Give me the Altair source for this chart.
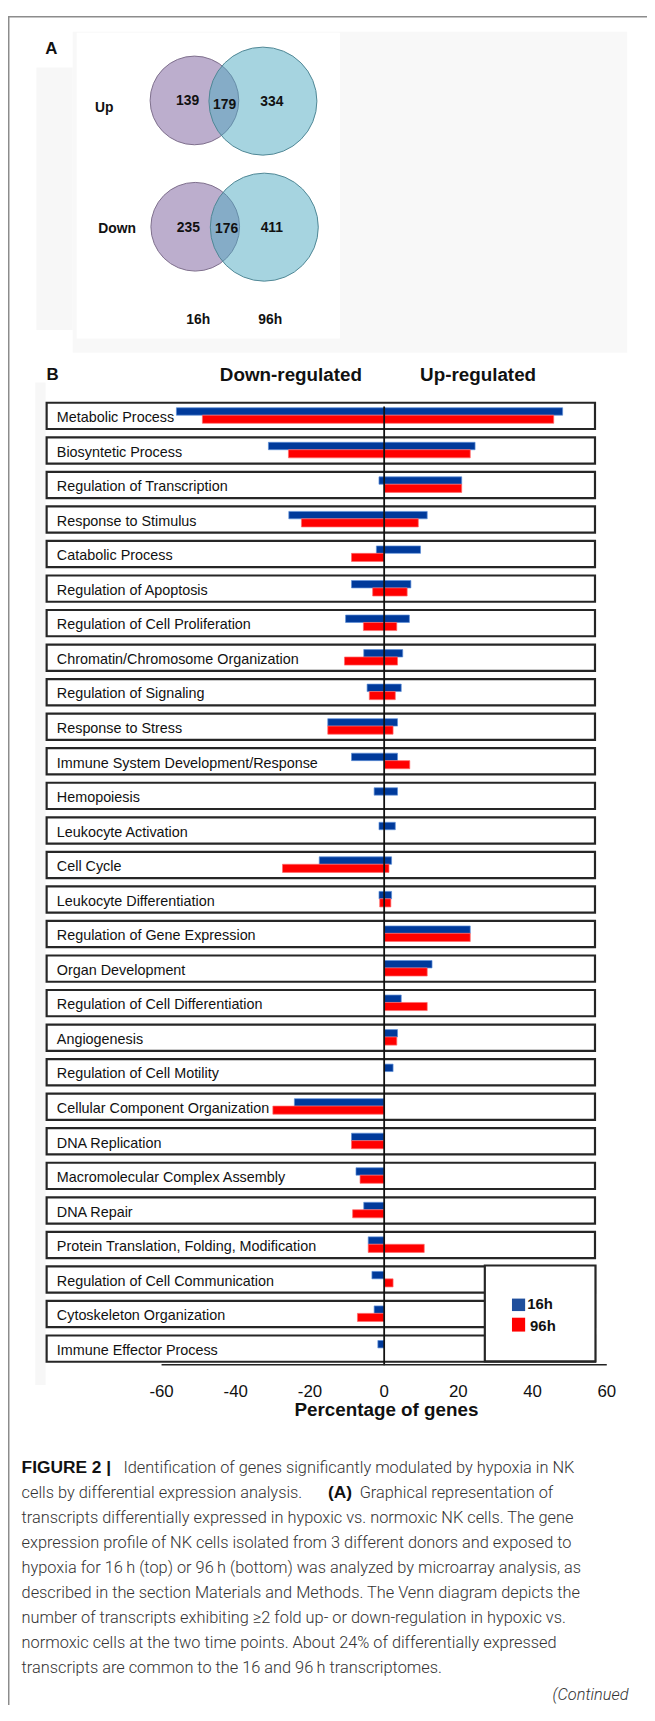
import altair as alt
import pandas as pd

# ------------------------------------------------------------------ data
categories = [
    "Metabolic Process", "Biosyntetic Process", "Regulation of Transcription",
    "Response to Stimulus", "Catabolic Process", "Regulation of Apoptosis",
    "Regulation of Cell Proliferation", "Chromatin/Chromosome Organization",
    "Regulation of Signaling", "Response to Stress",
    "Immune System Development/Response", "Hemopoiesis", "Leukocyte Activation",
    "Cell Cycle", "Leukocyte Differentiation", "Regulation of Gene Expression",
    "Organ Development", "Regulation of Cell Differentiation", "Angiogenesis",
    "Regulation of Cell Motility", "Cellular Component Organization",
    "DNA Replication", "Macromolecular Complex Assembly", "DNA Repair",
    "Protein Translation, Folding, Modification",
    "Regulation of Cell Communication", "Cytoskeleton Organization",
    "Immune Effector Process",
]
down_16h = [-56.0, -31.2, -1.4, -25.7, -2.1, -8.8, -10.4, -5.5, -4.6, -15.2,
            -8.8, -2.7, -1.4, -17.5, -1.4, 0, 0, 0, 0, 0,
            -24.2, -8.8, -7.6, -5.5, -4.3, -3.3, -2.7, -1.7]
up_16h = [48.1, 24.5, 20.9, 11.6, 9.8, 7.2, 6.8, 5.0, 4.6, 3.6,
          3.6, 3.6, 3.0, 2.0, 2.0, 23.2, 12.9, 4.6, 3.6, 2.4,
          0, 0, 0, 0, 0, 0, 0, 0]
down_96h = [-49.0, -25.8, 0, -22.3, -8.8, -3.1, -5.6, -10.7, -4.0, -15.2,
            0, 0, 0, -27.4, -1.2, 0, 0, 0, 0, 0,
            -30.0, -8.8, -6.5, -8.5, -4.3, 0, -7.2, 0]
up_96h = [45.7, 23.2, 20.9, 9.2, 0, 6.2, 3.4, 3.6, 3.0, 2.4,
          6.9, 0, 0, 1.3, 1.8, 23.2, 11.6, 11.6, 3.4, 0,
          0, 0, 0, 0, 10.8, 2.4, 0, 0]
series = ["16h", "96h"]
x_ticks = [-60, -40, -20, 0, 20, 40, 60]

venn_rows = ["Up", "Down"]
venn_only16 = [139, 235]
venn_common = [179, 176]
venn_only96 = [334, 411]
venn_sets = ["16h", "96h"]

caption_lines = [
    "Identification of genes significantly modulated by hypoxia in NK",
    "cells by differential expression analysis.",
    "transcripts differentially expressed in hypoxic vs. normoxic NK cells. The gene",
    "expression profile of NK cells isolated from 3 different donors and exposed to",
    "hypoxia for 16\u2009h (top) or 96\u2009h (bottom) was analyzed by microarray analysis, as",
    "described in the section Materials and Methods. The Venn diagram depicts the",
    "number of transcripts exhibiting \u22652 fold up- or down-regulation in hypoxic vs.",
    "normoxic cells at the two time points. About 24% of differentially expressed",
    "transcripts are common to the 16 and 96\u2009h transcriptomes.",
]

# ------------------------------------------------------------------ layout / style
W, H = 645, 1705
X0, PXU = 379.7, 3.745          # pixel of 0 %, pixels per %
ROW0, STEP = 403.7, 34.87        # centre of first row, row step
ARIAL = "Liberation Sans"
CAPF = "Roboto"
BLUE, RED = "#003a9b", "#ff0000"
BAR_BAND = {"16h": (-0.235, -0.02), "96h": (-0.02, 0.215)}
BOX_HALF = 0.38

xs = alt.Scale(domain=[-X0 / PXU, (W - X0) / PXU], nice=False, zero=False)
ys = alt.Scale(domain=[-ROW0 / STEP, (H - ROW0) / STEP], nice=False, zero=False, reverse=True)
cs = alt.Scale(domain=series, range=[BLUE, RED])


def PX(f):
    return alt.X(f, type="quantitative", scale=None, axis=None)


def PY(f):
    return alt.Y(f, type="quantitative", scale=None, axis=None)


# ------------------------------------------------------------------ tables
bar_rows = []
for i, c in enumerate(categories):
    for s, lo, hi in (("16h", down_16h[i], up_16h[i]), ("96h", down_96h[i], up_96h[i])):
        if lo == 0 and hi == 0:
            continue
        a, b = BAR_BAND[s]
        bar_rows.append(dict(category=c, idx=i, series=s, lo=lo, hi=hi, yt=i + a, yb=i + b))
bars_df = pd.DataFrame(bar_rows)

rows_df = pd.DataFrame({"category": categories, "idx": list(range(len(categories)))})
rows_df["yt"] = rows_df["idx"] - BOX_HALF
rows_df["yb"] = rows_df["idx"] + BOX_HALF

ticks_df = pd.DataFrame({"v": x_ticks, "label": [str(t) for t in x_ticks]})

# ------------------------------------------------------------------ layers
# page frame + faint backgrounds
frame = alt.Chart(pd.DataFrame({
    "x": [0, 0.75], "x2": [W, 0.75], "y": [0.75, 0], "y2": [0.75, H]
})).mark_rule(color="#8c8c8c", strokeWidth=1.5).encode(
    x=PX("x:Q"), x2="x2:Q", y=PY("y:Q"), y2="y2:Q")

bg = alt.Chart(pd.DataFrame({
    "x": [28.7, 65.3, 69.3, 27.5], "x2": [65.3, 625, 335, 38],
    "y": [52, 16, 17, 370], "y2": [317, 340, 325.5, 1382],
    "c": ["#f7f7f7", "#f8f8f8", "#ffffff", "#f7f7f7"],
})).mark_rect().encode(x=PX("x:Q"), x2="x2:Q", y=PY("y:Q"), y2="y2:Q",
                       fill=alt.Fill("c:N", scale=None))

# Venn circles
venn_c = pd.DataFrame({
    "cx": [188.2, 257.3, 189.0, 258.7],
    "cy": [85.3, 86.0, 212.8, 213.2],
    "s": [3.1416 * 50.5 ** 2, 3.1416 * 61.5 ** 2, 3.1416 * 50.5 ** 2, 3.1416 * 61.5 ** 2],
    "f": ["#bcaecd", "#4da9c1", "#bcaecd", "#4da9c1"],
    "fo": [1.0, 0.5, 1.0, 0.5],
    "st": ["#7d6e8c", "#4f8795", "#7d6e8c", "#4f8795"],
})
circles = alt.Chart(venn_c).mark_point(filled=True, shape="circle", strokeWidth=1, opacity=1).encode(
    x=PX("cx:Q"), y=PY("cy:Q"), size=alt.Size("s:Q", scale=None),
    fill=alt.Fill("f:N", scale=None), fillOpacity=alt.FillOpacity("fo:Q", scale=None),
    stroke=alt.Stroke("st:N", scale=None))

venn_pos = {"Up": [(181.3, 90.3), (218.7, 93.7), (266.3, 91.0)],
            "Down": [(182.0, 217.7), (220.7, 219.3), (266.3, 217.7)]}
vt = []
for k, r in enumerate(venn_rows):
    for (px, py), val in zip(venn_pos[r], (venn_only16[k], venn_common[k], venn_only96[k])):
        vt.append(dict(px=px, py=py, t=str(val)))
venn_nums = alt.Chart(pd.DataFrame(vt)).mark_text(
    font=ARIAL, fontSize=14, fontWeight="bold", color="#111", baseline="alphabetic", align="center"
).encode(x=PX("px:Q"), y=PY("py:Q"), text="t:N")

venn_lab = alt.Chart(pd.DataFrame({
    "px": [87.7, 91.0], "py": [97.3, 218.7], "t": venn_rows})).mark_text(
    font=ARIAL, fontSize=14, fontWeight="bold", color="#111", baseline="alphabetic", align="left"
).encode(x=PX("px:Q"), y=PY("py:Q"), text="t:N")

venn_set = alt.Chart(pd.DataFrame({
    "px": [192.0, 264.7], "py": [311.3, 311.3], "t": venn_sets})).mark_text(
    font=ARIAL, fontSize=14, fontWeight="bold", color="#111", baseline="alphabetic", align="center"
).encode(x=PX("px:Q"), y=PY("py:Q"), text="t:N")

panel_letters = alt.Chart(pd.DataFrame({
    "px": [43.7, 44.9], "py": [38.7, 367.0], "t": ["A", "B"]})).mark_text(
    font=ARIAL, fontSize=17, fontWeight="bold", color="#111", baseline="alphabetic", align="center"
).encode(x=PX("px:Q"), y=PY("py:Q"), text="t:N")

headers = alt.Chart(pd.DataFrame({
    "px": [285.6, 474.5, 382.0], "py": [368.7, 368.7, 1413.0],
    "t": ["Down-regulated", "Up-regulated", "Percentage of genes"]})).mark_text(
    font=ARIAL, fontSize=19, fontWeight="bold", color="#111", baseline="alphabetic", align="center"
).encode(x=PX("px:Q"), y=PY("py:Q"), text="t:N")

# row boxes
boxes = alt.Chart(rows_df).mark_rect(fill="white", stroke="#262626", strokeWidth=2.2).encode(
    x=alt.value(39), x2=alt.value(592.5),
    y=alt.Y("yt:Q", scale=ys, axis=None), y2="yb:Q")

row_labels = alt.Chart(rows_df).mark_text(
    font=ARIAL, fontSize=14.5, color="#111", align="left", baseline="alphabetic", dy=6.3
).encode(x=alt.value(49.3), y=alt.Y("idx:Q", scale=ys, axis=None), text="category:N")

bars = alt.Chart(bars_df).mark_rect(strokeWidth=0.7).encode(
    x=alt.X("lo:Q", scale=xs, axis=None), x2="hi:Q",
    y=alt.Y("yt:Q", scale=ys, axis=None), y2="yb:Q",
    color=alt.Color("series:N", scale=cs, legend=None),
    stroke=alt.Stroke("series:N", scale=alt.Scale(domain=series, range=["#5d8fd8", "#ff6a6a"]), legend=None))

zero_line = alt.Chart(pd.DataFrame({"v": [0]})).mark_rule(color="#111", strokeWidth=1.8).encode(
    x=alt.X("v:Q", scale=xs, axis=None), y=alt.value(394.3), y2=alt.value(1362))

axis_line = alt.Chart(pd.DataFrame({"a": [min(x_ticks)], "b": [max(x_ticks)]})).mark_rule(
    color="#222", strokeWidth=1.5).encode(
    x=alt.X("a:Q", scale=xs, axis=None), x2="b:Q", y=alt.value(1361.5))

tick_labels = alt.Chart(ticks_df).mark_text(
    font=ARIAL, fontSize=17, color="#111", baseline="alphabetic", align="center"
).encode(x=alt.X("v:Q", scale=xs, axis=None), y=alt.value(1393.7), text="label:N")

# legend
legend_box = alt.Chart(pd.DataFrame({"x": [481.3], "x2": [593], "y": [1261.3], "y2": [1358]})).mark_rect(
    fill="white", stroke="#262626", strokeWidth=2.2).encode(x=PX("x:Q"), x2="x2:Q", y=PY("y:Q"), y2="y2:Q")
legend_sq = alt.Chart(pd.DataFrame({
    "series": series, "x": [508.7, 508.7], "x2": [522, 522], "y": [1294.7, 1314], "y2": [1307.3, 1328]
})).mark_rect().encode(x=PX("x:Q"), x2="x2:Q", y=PY("y:Q"), y2="y2:Q",
                       fill=alt.Fill("series:N", scale=alt.Scale(domain=series, range=["#1f4e9c", RED]), legend=None))
legend_txt = alt.Chart(pd.DataFrame({
    "series": series, "px": [524.2, 527.0], "py": [1305.7, 1327.3]})).mark_text(
    font=ARIAL, fontSize=15, fontWeight="bold", color="#111", align="left", baseline="alphabetic"
).encode(x=PX("px:Q"), y=PY("py:Q"), text="series:N")

# caption
CAP_X, CAP_Y0, CAP_DY = 13.7, 1470.3, 25.3
cap_reg = pd.DataFrame({
    "px": [116.5] + [CAP_X] * (len(caption_lines) - 1),
    "py": [CAP_Y0 + k * CAP_DY for k in range(len(caption_lines))],
    "t": caption_lines,
})
cap_reg = pd.concat([cap_reg, pd.DataFrame({"px": [355.0], "py": [CAP_Y0 + CAP_DY],
                                            "t": ["Graphical representation of"]})])
caption = alt.Chart(cap_reg).mark_text(
    font=CAPF, fontSize=16.5, fontWeight=300, color="#333", align="left", baseline="alphabetic"
).encode(x=PX("px:Q"), y=PY("py:Q"), text="t:N")
caption_b = alt.Chart(pd.DataFrame({
    "px": [CAP_X, 323.0], "py": [CAP_Y0, CAP_Y0 + CAP_DY], "t": ["FIGURE 2 |", "(A)"]})).mark_text(
    font=ARIAL, fontSize=17.5, fontWeight="bold", color="#111", align="left", baseline="alphabetic"
).encode(x=PX("px:Q"), y=PY("py:Q"), text="t:N")
caption_i = alt.Chart(pd.DataFrame({"px": [549.6], "py": [1700.3], "t": ["(Continued"]})).mark_text(
    font=CAPF, fontSize=16.5, fontWeight=300, fontStyle="italic", color="#333", align="left", baseline="alphabetic"
).encode(x=PX("px:Q"), y=PY("py:Q"), text="t:N")

chart = alt.layer(
    bg, frame, circles, venn_nums, venn_lab, venn_set, panel_letters, headers,
    boxes, row_labels, bars, zero_line, axis_line, tick_labels,
    legend_box, legend_sq, legend_txt, caption, caption_b, caption_i,
).properties(
    width=W, height=H, autosize=alt.AutoSizeParams(type="none"), padding=0
).configure_view(strokeWidth=0)

chart.save("out.html", embed_options={"renderer": "svg", "actions": False})
